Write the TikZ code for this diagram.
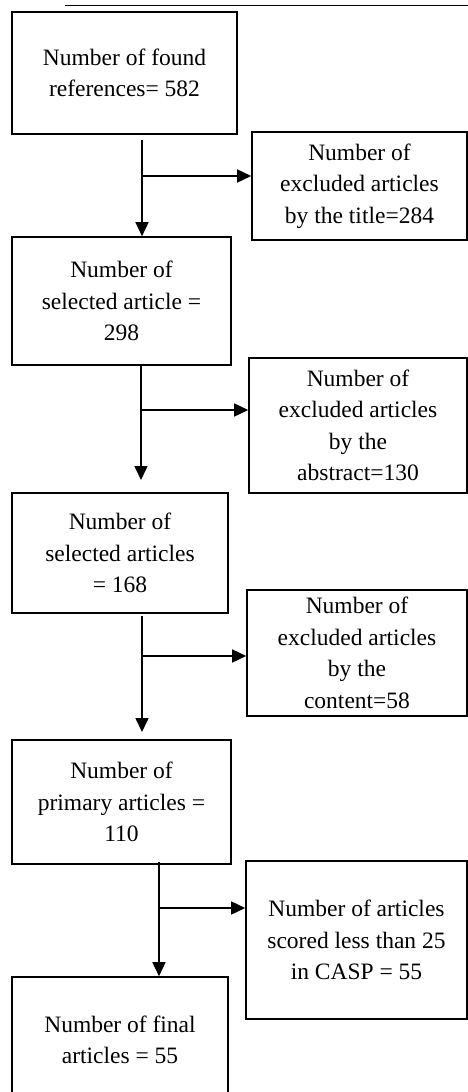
\documentclass[tikz,border=0pt]{standalone}
\usepackage{fontspec}
\setmainfont{Liberation Serif}
\usetikzlibrary{arrows.meta, calc}

\begin{document}
\begin{tikzpicture}[x=1pt, y=-1pt,
    box/.style={draw, line width=1.6pt, align=center, inner sep=0pt,
                font=\fontsize{23.5}{31.5}\selectfont},
    flow/.style={line width=1.6pt, -{Triangle[length=14pt,width=13pt]}}]
                    \path[use as bounding box, clip] (0,0) rectangle (468,1092);

                    \node[box, minimum width=225pt, minimum height=122pt] (found) at (124.5,73) {Number of found\\references= 582};
                    \node[box, minimum width=215pt, minimum height=108pt] (ex1) at (359.5,186) {Number of\\excluded articles\\by the title=284};
                    \node[box, minimum width=219pt, minimum height=128pt] (sel1) at (121.5,301) {Number of\\selected article =\\298};
                    \node[box, minimum width=218pt, minimum height=135pt] (ex2) at (358,425.5) {Number of\\excluded articles\\by the\\abstract=130};
                    \node[box, minimum width=216pt, minimum height=120pt] (sel2) at (120,553) {Number of\\selected articles\\= 168};
                    \node[box, minimum width=220pt, minimum height=126pt] (ex3) at (357,653) {Number of\\excluded articles\\by the\\content=58};
                    \node[box, minimum width=219pt, minimum height=124pt] (prim) at (121.5,802) {Number of\\primary articles =\\110};
                    \node[box, minimum width=221pt, minimum height=158pt] (ex4) at (356.5,940) {Number of articles\\scored less than 25\\in CASP = 55};
                    \node[box, minimum width=216pt, minimum height=126pt] (final) at (120,1040) {Number of final\\articles = 55};

                    \coordinate (s1) at (142,140);
                    \coordinate (j1) at (142,176);
                    \coordinate (j2) at (141,410);
                    \coordinate (e2) at (141,480);
                    \coordinate (s3) at (142,616);
                    \coordinate (j3) at (142,656);
                    \coordinate (e3) at (142,732);
                    \coordinate (s4) at (159,862);
                    \coordinate (j4) at (159,908);

                    \draw[flow] (s1) -- (s1 |- sel1.north);
                    \draw[flow] (j1) -- (j1 -| ex1.west);
                    \draw[flow] (sel1.south -| e2) -- (e2);
                    \draw[flow] (j2) -- (j2 -| ex2.west);
                    \draw[flow] (s3) -- (e3);
                    \draw[flow] (j3) -- (j3 -| ex3.west);
                    \draw[flow] (s4) -- (s4 |- final.north);
                    \draw[flow] (j4) -- (j4 -| ex4.west);

                    \draw[line width=0.8pt] (65,5) -- (468,5);
                \end{tikzpicture}
\end{document}
